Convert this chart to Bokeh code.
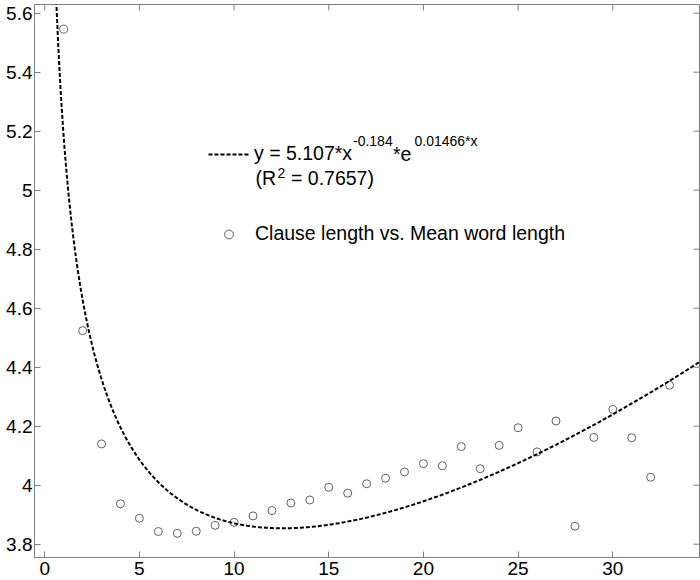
import numpy as np
from bokeh.plotting import figure
from bokeh.models import (Range1d, FixedTicker, CustomJSTickFormatter,
                          Legend, LegendItem, Label)
from bokeh.embed import file_html
from bokeh.resources import INLINE

# ---------------- data ----------------
clause_length = list(range(1, 34))
mean_word_length = [5.546, 4.524, 4.140, 3.937, 3.888, 3.843, 3.837, 3.844, 3.864, 3.874,
                    3.896, 3.914, 3.940, 3.950, 3.993, 3.973, 4.005, 4.024, 4.045, 4.073,
                    4.066, 4.131, 4.056, 4.135, 4.195, 4.113, 4.218, 3.861, 4.162, 4.257,
                    4.161, 4.027, 4.339]
# fitted model y = a * x^b * e^(c*x), coefficients as printed in the legend
fit_a, fit_b, fit_c = 5.107, -0.184, 0.01466
x_ticks = [0, 5, 10, 15, 20, 25, 30]
y_ticks = [3.8, 4.0, 4.2, 4.4, 4.6, 4.8, 5.0, 5.2, 5.4, 5.6]
series_label = "Clause length vs. Mean word length"

# ---------------- layout ----------------
X_START, X_END = -0.54, 34.58
Y_START, Y_END = 3.755, 5.6295
W, H = 700, 580
FL, FR, FT, FB = 34, 699, 4, 557
FONT = "Liberation Sans"
GREY = "#7f7f7f"
TICK_PX = 6

p = figure(width=W, height=H, x_range=Range1d(X_START, X_END), y_range=Range1d(Y_START, Y_END),
           output_backend="svg", toolbar_location=None,
           min_border_left=FL, min_border_right=W - FR, min_border_top=FT, min_border_bottom=H - FB)
p.grid.visible = False
p.outline_line_color = GREY
p.background_fill_color = "white"
p.border_fill_color = "white"

fmt = CustomJSTickFormatter(code="return String(Math.round(tick*10)/10);")


def style(ax, ticks):
    ax.ticker = FixedTicker(ticks=ticks)
    ax.formatter = fmt
    ax.axis_line_color = GREY
    ax.major_tick_line_color = GREY
    ax.major_tick_in = TICK_PX
    ax.major_tick_out = 0
    ax.minor_tick_line_color = None
    ax.major_label_text_font = FONT
    ax.major_label_text_color = "black"
    ax.major_label_text_font_size = "19px"


style(p.xaxis[0], x_ticks)
p.xaxis[0].major_label_standoff = 4
style(p.yaxis[0], y_ticks)
p.yaxis[0].major_label_standoff = 2

# mirrored inward ticks on the top and right frame edges (no labels)
dy = TICK_PX * (Y_END - Y_START) / (FB - FT)
dx = TICK_PX * (X_END - X_START) / (FR - FL)
p.segment(x0=x_ticks, y0=[Y_END] * len(x_ticks), x1=x_ticks, y1=[Y_END - dy] * len(x_ticks),
          line_color=GREY, line_width=1)
p.segment(x0=[X_END] * len(y_ticks), y0=y_ticks, x1=[X_END - dx] * len(y_ticks), y1=y_ticks,
          line_color=GREY, line_width=1)

# ---------------- marks ----------------
circles = p.scatter(clause_length, mean_word_length, marker="circle", size=8,
                    fill_color=None, line_color="#606060", line_width=1)

fx = np.linspace(0.5, X_END, 500)
fy = fit_a * fx ** fit_b * np.exp(fit_c * fx)
curve = p.line(fx, fy, line_color="black", line_width=2, line_dash="4 2")

# ---------------- legends ----------------
def make_legend(items, loc, standoff, baseline):
    lg = Legend(items=items, location=loc, glyph_width=41, glyph_height=22, label_height=22,
                label_standoff=standoff, padding=0, margin=0, spacing=0,
                border_line_color=None, background_fill_alpha=0,
                label_text_font=FONT, label_text_font_size="19.5px", label_text_color="black",
                label_text_baseline=baseline)
    p.add_layout(lg)


make_legend([LegendItem(label="y = 5.107*x", renderers=[curve])], (208 - FL, FB - 165), 5,
            "alphabetic")
make_legend([LegendItem(label=series_label, renderers=[circles])], (208 - FL, FB - 245), 6,
            "middle")


def px2x(px):
    return X_START + (px - FL) / (FR - FL) * (X_END - X_START)


def py2y(py):
    return Y_END - (py - FT) / (FB - FT) * (Y_END - Y_START)


def add_text(txt, px, py, size):
    p.add_layout(Label(x=px2x(px), y=py2y(py), text=txt, text_font=FONT,
                       text_font_size=f"{size}px", text_baseline="alphabetic",
                       text_align="left", text_color="black"))


add_text("-0.184", 352.5, 140.5, 14)
add_text("*e", 392.5, 153, 19.5)
add_text("0.01466*x", 414, 140.5, 14)
add_text("(R", 255, 177.3, 19.5)
add_text("2", 277, 172.5, 14)
add_text("= 0.7657)", 290.5, 177.3, 19.5)

open("out.html", "w").write(file_html(p, INLINE))
